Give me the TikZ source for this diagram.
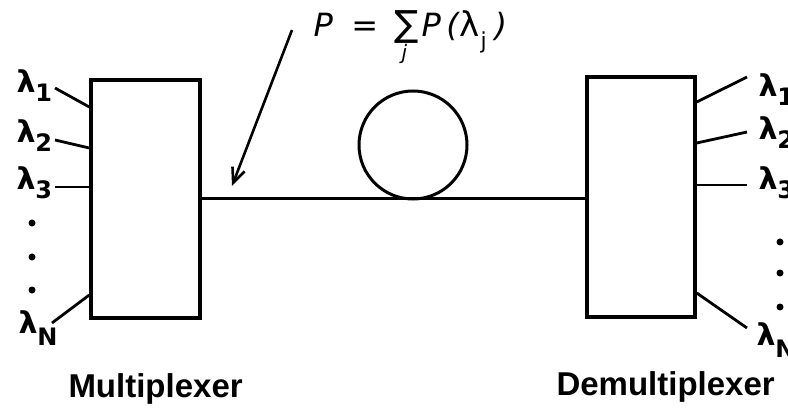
\documentclass[tikz,border=0pt]{standalone}
\usepackage{fontspec}
\setmainfont{DejaVu Sans}
\newfontfamily\labfont{Liberation Sans}
\usetikzlibrary{arrows.meta}
\newcommand\lsub[2][-9pt]{\raisebox{#1}{\fontsize{24}{24}\selectfont #2}}
\begin{document}
\begin{tikzpicture}[x=1pt,y=-1pt, line width=3pt,
  box/.style={draw, rectangle, inner sep=0pt, line width=3.4pt},
  lam/.style={anchor=base west, inner sep=0pt, font=\bfseries\fontsize{30}{30}\selectfont},
  caption/.style={anchor=base west, inner sep=0pt, font=\labfont\bfseries\fontsize{33}{33}\selectfont},
  lead/.style={line width=2.8pt},
  dotm/.style={circle, fill, inner sep=0pt, minimum size=7pt}]
\useasboundingbox (0,0) rectangle (788,409);
\fill[white] (0,0) rectangle (788,409);

% boxes and fibre
\node[box, minimum width=109pt, minimum height=238pt] (mux) at (145.5,199) {};
\node[box, minimum width=108pt, minimum height=240pt] (demux) at (641,197) {};
\node[draw, circle, minimum size=108pt, inner sep=0pt, line width=3pt] (loop) at (413,145) {};
\draw (mux.east) -- (mux.east -| demux.west);

% formula and arrow
\node[anchor=base west, inner sep=0pt, font=\fontsize{32}{32}\selectfont\itshape] (psum) at (312,37)
  {\makebox[38pt][l]{P}\makebox[43pt][l]{=}\makebox[27pt][l]{\rlap{\hspace{7pt}\raisebox{-23pt}{\fontsize{20}{20}\selectfont j}}{\upshape\fontsize{36}{36}\selectfont ∑}}\makebox[25pt][l]{P}\makebox[13pt][l]{(}\makebox[21pt][l]{\upshape\fontsize{34}{34}\selectfont λ}\makebox[14pt][l]{\raisebox{-12pt}{\fontsize{22}{22}\selectfont\upshape j}})};
\coordinate (atail) at (292,30);
\coordinate (ahead) at (232,186);
\draw[-{Straight Barb[length=15pt,width=13pt]}, line width=2.6pt] (atail) -- (ahead);

% left labels
\node[lam] (l1) at (15,93) {λ\lsub{1}};
\node[lam] (l2) at (15,143) {λ\lsub{2}};
\node[lam] (l3) at (15,190) {λ\lsub{3}};
\node[lam] (lN) at (17,333) {λ\lsub[-12pt]{N}};
\node[dotm] (ld1) at (32,223) {};
\node[dotm] (ld2) at (32,257) {};
\node[dotm] (ld3) at (32,290) {};
\coordinate (p1) at (55,88);
\coordinate (p2) at (55,140);
\coordinate (p3) at (55,187);
\coordinate (pN) at (52,323);
\draw[lead] (p1) -- (mux.west |- 0,107);
\draw[lead] (p2) -- (mux.west |- 0,148);
\draw[lead] (p3) -- (mux.west |- 0,187);
\draw[lead] (pN) -- (mux.west |- 0,295);

% right labels
\node[lam] (r1) at (757,97) {λ\lsub{1}};
\node[lam] (r2) at (757,140) {λ\lsub{2}};
\node[lam] (r3) at (757,190) {λ\lsub{3}};
\node[lam] (rN) at (755,345) {λ\lsub[-12pt]{N}};
\node[dotm] (rd1) at (780,242) {};
\node[dotm] (rd2) at (780,273) {};
\node[dotm] (rd3) at (780,307) {};
\coordinate (q1) at (747,77);
\coordinate (q2) at (747,132);
\coordinate (q3) at (747,185);
\coordinate (qN) at (747,328);
\draw[lead] (demux.east |- 0,102) -- (q1);
\draw[lead] (demux.east |- 0,143) -- (q2);
\draw[lead] (demux.east |- 0,185) -- (q3);
\draw[lead] (demux.east |- 0,293) -- (qN);

% captions
\node[caption] (mcap) at (67,397) {Multiplexer};
\node[caption] (dcap) at (555,395) {Demultiplexer};
\end{tikzpicture}
\end{document}
